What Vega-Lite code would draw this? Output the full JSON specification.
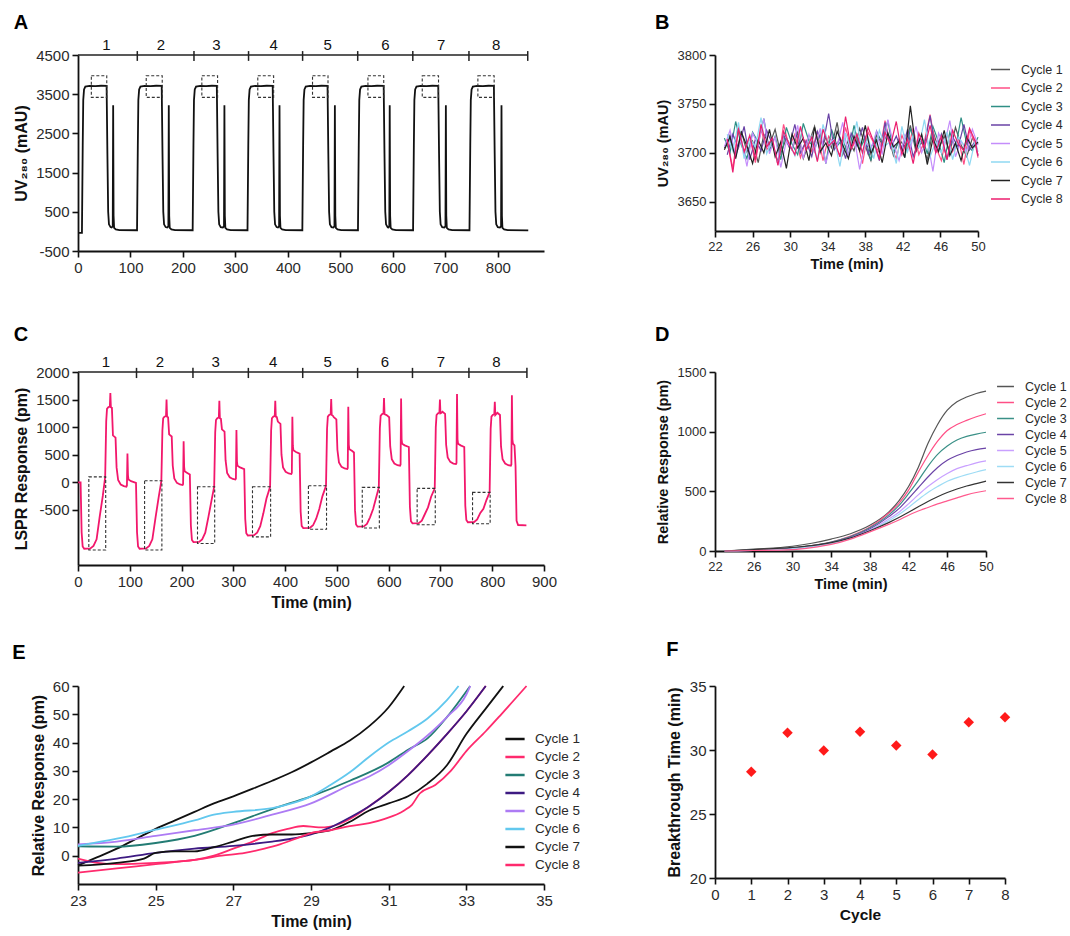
{
"$schema":"https://vega.github.io/schema/vega-lite/v6.json",
"padding":{"left":12,"top":13,"right":2,"bottom":2},
"config":{"font":"Liberation Sans","view":{"stroke":null},
"axis":{"grid":false,"domainColor":"#111","domainWidth":1.8,"tickColor":"#111","tickWidth":1.6,"tickSize":6,"labelColor":"#2a2a2a","titleColor":"#111","titleFontWeight":"bold","labelFlush":false,"labelOverlap":false},
"legend":{"labelColor":"#2a2a2a","padding":0},
"title":{"anchor":"start","frame":"bounds","fontSize":20,"fontWeight":"bold","color":"#000"}},
"resolve":{"scale":{"color":"independent"},"legend":{"color":"independent"}},
"columns":2,"spacing":{"row":121,"column":171},"bounds":"flush","align":"each",
"concat":[
{"width":466,"height":196,"title":{"text":"A","offset":5},
"encoding":{"x":{"field":"x","type":"quantitative","scale":{"domain":[0,888],"nice":false,"zero":false},"axis":{"values":[0,100,200,300,400,500,600,700,800],"title":null,"labelFontSize":15,"labelPadding":3}},
"y":{"field":"y","type":"quantitative","scale":{"domain":[-500,4500],"nice":false,"zero":false},"axis":{"values":[-500,500,1500,2500,3500,4500],"labelExpr":"'' + datum.value","title":"UV₂₈₀ (mAU)","labelFontSize":15,"titleFontSize":16,"labelPadding":3,"titlePadding":6}}},
"layer":[
{"data":{"values":[
{"x":0,"y":-40},{"x":7.5,"y":-40},{"x":9,"y":2200},{"x":10,"y":3350},{"x":11.5,"y":3620},{"x":14,"y":3695},{"x":22,"y":3712},{"x":33,"y":3704},{"x":44,"y":3716},{"x":54.5,"y":3710},{"x":56,"y":2000},{"x":57.5,"y":500},{"x":59,"y":180},{"x":62,"y":110},{"x":64,"y":100},{"x":66.2,"y":130},{"x":67,"y":3220},{"x":67.8,"y":400},{"x":68.8,"y":90},{"x":72,"y":50},{"x":79,"y":35},{"x":112.5,"y":30},
{"x":114,"y":2200},{"x":115,"y":3350},{"x":116.5,"y":3620},{"x":119,"y":3695},{"x":127,"y":3712},{"x":138,"y":3704},{"x":149,"y":3716},{"x":159.5,"y":3710},{"x":161,"y":2000},{"x":162.5,"y":500},{"x":164,"y":180},{"x":167,"y":110},{"x":170,"y":100},{"x":172.2,"y":130},{"x":173,"y":3220},{"x":173.8,"y":400},{"x":174.8,"y":90},{"x":178,"y":50},{"x":185,"y":35},{"x":218.5,"y":30},
{"x":220,"y":2200},{"x":221,"y":3350},{"x":222.5,"y":3620},{"x":225,"y":3695},{"x":233,"y":3712},{"x":244,"y":3704},{"x":255,"y":3716},{"x":264.5,"y":3710},{"x":266,"y":2000},{"x":267.5,"y":500},{"x":269,"y":180},{"x":272,"y":110},{"x":276,"y":100},{"x":278.2,"y":130},{"x":279,"y":3220},{"x":279.8,"y":400},{"x":280.8,"y":90},{"x":284,"y":50},{"x":291,"y":35},{"x":323,"y":30},
{"x":324.5,"y":2200},{"x":325.5,"y":3350},{"x":327,"y":3620},{"x":329.5,"y":3695},{"x":337.5,"y":3712},{"x":348.5,"y":3704},{"x":359.5,"y":3716},{"x":371,"y":3710},{"x":372.5,"y":2000},{"x":374,"y":500},{"x":375.5,"y":180},{"x":378.5,"y":110},{"x":381,"y":100},{"x":383.2,"y":130},{"x":384,"y":3220},{"x":384.8,"y":400},{"x":385.8,"y":90},{"x":389,"y":50},{"x":396,"y":35},{"x":427.5,"y":30},
{"x":429,"y":2200},{"x":430,"y":3350},{"x":431.5,"y":3620},{"x":434,"y":3695},{"x":442,"y":3712},{"x":453,"y":3704},{"x":464,"y":3716},{"x":475.5,"y":3710},{"x":477,"y":2000},{"x":478.5,"y":500},{"x":480,"y":180},{"x":483,"y":110},{"x":486.5,"y":100},{"x":488.7,"y":130},{"x":489.5,"y":3220},{"x":490.3,"y":400},{"x":491.3,"y":90},{"x":494.5,"y":50},{"x":501.5,"y":35},{"x":533.5,"y":30},
{"x":535,"y":2200},{"x":536,"y":3350},{"x":537.5,"y":3620},{"x":540,"y":3695},{"x":548,"y":3712},{"x":559,"y":3704},{"x":570,"y":3716},{"x":582.5,"y":3710},{"x":584,"y":2000},{"x":585.5,"y":500},{"x":587,"y":180},{"x":590,"y":110},{"x":591,"y":100},{"x":593.2,"y":130},{"x":594,"y":3220},{"x":594.8,"y":400},{"x":595.8,"y":90},{"x":599,"y":50},{"x":606,"y":35},{"x":638.5,"y":30},
{"x":640,"y":2200},{"x":641,"y":3350},{"x":642.5,"y":3620},{"x":645,"y":3695},{"x":653,"y":3712},{"x":664,"y":3704},{"x":675,"y":3716},{"x":686.5,"y":3710},{"x":688,"y":2000},{"x":689.5,"y":500},{"x":691,"y":180},{"x":694,"y":110},{"x":698,"y":100},{"x":700.2,"y":130},{"x":701,"y":3220},{"x":701.8,"y":400},{"x":702.8,"y":90},{"x":706,"y":50},{"x":713,"y":35},{"x":746,"y":30},
{"x":747.5,"y":2200},{"x":748.5,"y":3350},{"x":750,"y":3620},{"x":752.5,"y":3695},{"x":760.5,"y":3712},{"x":771.5,"y":3704},{"x":782.5,"y":3716},{"x":792.5,"y":3710},{"x":794,"y":2000},{"x":795.5,"y":500},{"x":797,"y":180},{"x":800,"y":110},{"x":804,"y":100},{"x":806.2,"y":130},{"x":807,"y":3220},{"x":807.8,"y":400},{"x":808.8,"y":90},{"x":812,"y":50},{"x":819,"y":35},{"x":858,"y":25}
]},"mark":{"type":"line","color":"#111","strokeWidth":1.8}},
{"data":{"values":[{"x":25.4,"x2":54.8,"y":3420,"y2":3970},{"x":130,"x2":160.5,"y":3420,"y2":3970},{"x":236,"x2":266,"y":3420,"y2":3970},{"x":342.6,"x2":372.8,"y":3420,"y2":3970},{"x":446.9,"x2":476.4,"y":3420,"y2":3970},{"x":552.5,"x2":582.6,"y":3420,"y2":3970},{"x":656,"x2":687,"y":3420,"y2":3970},{"x":762,"x2":793,"y":3420,"y2":3970}]},
"mark":{"type":"rect","fillOpacity":0,"stroke":"#333","strokeWidth":1.1,"strokeDash":[3,2]},"encoding":{"x2":{"field":"x2"},"y2":{"field":"y2"}}},
{"data":{"values":[{"x":0,"x2":857,"y":4500}]},"mark":{"type":"rule","color":"#222","strokeWidth":1.5},"encoding":{"x2":{"field":"x2"}}},
{"data":{"values":[{"x":113,"y":4350,"y2":4600},{"x":221,"y":4350,"y2":4600},{"x":325,"y":4350,"y2":4600},{"x":428,"y":4350,"y2":4600},{"x":533,"y":4350,"y2":4600},{"x":638,"y":4350,"y2":4600},{"x":745,"y":4350,"y2":4600},{"x":857,"y":4350,"y2":4600}]},"mark":{"type":"rule","color":"#222","strokeWidth":1.5},"encoding":{"y2":{"field":"y2"}}},
{"data":{"values":[{"x":54,"y":4500,"t":"1"},{"x":158,"y":4500,"t":"2"},{"x":264,"y":4500,"t":"3"},{"x":373,"y":4500,"t":"4"},{"x":476,"y":4500,"t":"5"},{"x":586,"y":4500,"t":"6"},{"x":692,"y":4500,"t":"7"},{"x":797,"y":4500,"t":"8"}]},"mark":{"type":"text","fontSize":15,"dy":-10,"color":"#111"},"encoding":{"text":{"field":"t","type":"nominal"}}}
]},
{"width":263,"height":176,"title":{"text":"B","offset":16},
"data":{"values":[
{"c":1,"x":23,"y":3705},{"c":1,"x":23.6,"y":3718},{"c":1,"x":24.2,"y":3696},{"c":1,"x":24.8,"y":3722},{"c":1,"x":25.4,"y":3701},{"c":1,"x":26,"y":3712},{"c":1,"x":26.6,"y":3690},{"c":1,"x":27.2,"y":3719},{"c":1,"x":27.8,"y":3708},{"c":1,"x":28.4,"y":3724},{"c":1,"x":29,"y":3699},{"c":1,"x":29.6,"y":3715},{"c":1,"x":30.2,"y":3703},{"c":1,"x":30.8,"y":3721},{"c":1,"x":31.4,"y":3694},{"c":1,"x":32,"y":3710},{"c":1,"x":32.6,"y":3727},{"c":1,"x":33.2,"y":3700},{"c":1,"x":33.8,"y":3716},{"c":1,"x":34.4,"y":3705},{"c":1,"x":35,"y":3731},{"c":1,"x":35.6,"y":3698},{"c":1,"x":36.2,"y":3713},{"c":1,"x":36.8,"y":3702},{"c":1,"x":37.4,"y":3725},{"c":1,"x":38,"y":3707},{"c":1,"x":38.6,"y":3692},{"c":1,"x":39.2,"y":3718},{"c":1,"x":39.8,"y":3709},{"c":1,"x":40.4,"y":3720},{"c":1,"x":41,"y":3697},{"c":1,"x":41.6,"y":3714},{"c":1,"x":42.2,"y":3706},{"c":1,"x":42.8,"y":3728},{"c":1,"x":43.4,"y":3701},{"c":1,"x":44,"y":3711},{"c":1,"x":44.6,"y":3693},{"c":1,"x":45.2,"y":3722},{"c":1,"x":45.8,"y":3704},{"c":1,"x":46.4,"y":3717},{"c":1,"x":47,"y":3700},{"c":1,"x":47.6,"y":3726},{"c":1,"x":48.2,"y":3708},{"c":1,"x":48.8,"y":3696},{"c":1,"x":49.4,"y":3715},{"c":1,"x":50,"y":3709},
{"c":2,"x":23.3,"y":3712},{"c":2,"x":23.9,"y":3684},{"c":2,"x":24.5,"y":3727},{"c":2,"x":25.1,"y":3699},{"c":2,"x":25.7,"y":3716},{"c":2,"x":26.3,"y":3690},{"c":2,"x":26.9,"y":3724},{"c":2,"x":27.5,"y":3703},{"c":2,"x":28.1,"y":3711},{"c":2,"x":28.7,"y":3688},{"c":2,"x":29.3,"y":3729},{"c":2,"x":29.9,"y":3706},{"c":2,"x":30.5,"y":3719},{"c":2,"x":31.1,"y":3695},{"c":2,"x":31.7,"y":3713},{"c":2,"x":32.3,"y":3701},{"c":2,"x":32.9,"y":3722},{"c":2,"x":33.5,"y":3692},{"c":2,"x":34.1,"y":3717},{"c":2,"x":34.7,"y":3708},{"c":2,"x":35.3,"y":3697},{"c":2,"x":35.9,"y":3726},{"c":2,"x":36.5,"y":3704},{"c":2,"x":37.1,"y":3714},{"c":2,"x":37.7,"y":3689},{"c":2,"x":38.3,"y":3721},{"c":2,"x":38.9,"y":3710},{"c":2,"x":39.5,"y":3700},{"c":2,"x":40.1,"y":3733},{"c":2,"x":40.7,"y":3707},{"c":2,"x":41.3,"y":3694},{"c":2,"x":41.9,"y":3718},{"c":2,"x":42.5,"y":3703},{"c":2,"x":43.1,"y":3725},{"c":2,"x":43.7,"y":3698},{"c":2,"x":44.3,"y":3712},{"c":2,"x":44.9,"y":3739},{"c":2,"x":45.5,"y":3706},{"c":2,"x":46.1,"y":3692},{"c":2,"x":46.7,"y":3720},{"c":2,"x":47.3,"y":3701},{"c":2,"x":47.9,"y":3715},{"c":2,"x":48.5,"y":3688},{"c":2,"x":49.1,"y":3723},{"c":2,"x":49.7,"y":3709},{"c":2,"x":50,"y":3695},
{"c":3,"x":23,"y":3715},{"c":3,"x":23.6,"y":3700},{"c":3,"x":24.2,"y":3732},{"c":3,"x":24.8,"y":3708},{"c":3,"x":25.4,"y":3694},{"c":3,"x":26,"y":3721},{"c":3,"x":26.6,"y":3711},{"c":3,"x":27.2,"y":3735},{"c":3,"x":27.8,"y":3702},{"c":3,"x":28.4,"y":3717},{"c":3,"x":29,"y":3693},{"c":3,"x":29.6,"y":3726},{"c":3,"x":30.2,"y":3709},{"c":3,"x":30.8,"y":3698},{"c":3,"x":31.4,"y":3730},{"c":3,"x":32,"y":3712},{"c":3,"x":32.6,"y":3704},{"c":3,"x":33.2,"y":3719},{"c":3,"x":33.8,"y":3689},{"c":3,"x":34.4,"y":3724},{"c":3,"x":35,"y":3707},{"c":3,"x":35.6,"y":3714},{"c":3,"x":36.2,"y":3697},{"c":3,"x":36.8,"y":3728},{"c":3,"x":37.4,"y":3703},{"c":3,"x":38,"y":3716},{"c":3,"x":38.6,"y":3692},{"c":3,"x":39.2,"y":3722},{"c":3,"x":39.8,"y":3710},{"c":3,"x":40.4,"y":3733},{"c":3,"x":41,"y":3700},{"c":3,"x":41.6,"y":3713},{"c":3,"x":42.2,"y":3695},{"c":3,"x":42.8,"y":3725},{"c":3,"x":43.4,"y":3706},{"c":3,"x":44,"y":3718},{"c":3,"x":44.6,"y":3699},{"c":3,"x":45.2,"y":3727},{"c":3,"x":45.8,"y":3711},{"c":3,"x":46.4,"y":3690},{"c":3,"x":47,"y":3721},{"c":3,"x":47.6,"y":3704},{"c":3,"x":48.2,"y":3736},{"c":3,"x":48.8,"y":3709},{"c":3,"x":49.4,"y":3702},{"c":3,"x":50,"y":3716},
{"c":4,"x":23.3,"y":3698},{"c":4,"x":23.9,"y":3719},{"c":4,"x":24.5,"y":3705},{"c":4,"x":25.1,"y":3727},{"c":4,"x":25.7,"y":3693},{"c":4,"x":26.3,"y":3714},{"c":4,"x":26.9,"y":3702},{"c":4,"x":27.5,"y":3723},{"c":4,"x":28.1,"y":3709},{"c":4,"x":28.7,"y":3691},{"c":4,"x":29.3,"y":3718},{"c":4,"x":29.9,"y":3706},{"c":4,"x":30.5,"y":3729},{"c":4,"x":31.1,"y":3700},{"c":4,"x":31.7,"y":3712},{"c":4,"x":32.3,"y":3696},{"c":4,"x":32.9,"y":3722},{"c":4,"x":33.5,"y":3708},{"c":4,"x":34.1,"y":3740},{"c":4,"x":34.7,"y":3703},{"c":4,"x":35.3,"y":3715},{"c":4,"x":35.9,"y":3694},{"c":4,"x":36.5,"y":3720},{"c":4,"x":37.1,"y":3707},{"c":4,"x":37.7,"y":3726},{"c":4,"x":38.3,"y":3699},{"c":4,"x":38.9,"y":3711},{"c":4,"x":39.5,"y":3692},{"c":4,"x":40.1,"y":3731},{"c":4,"x":40.7,"y":3705},{"c":4,"x":41.3,"y":3717},{"c":4,"x":41.9,"y":3701},{"c":4,"x":42.5,"y":3724},{"c":4,"x":43.1,"y":3696},{"c":4,"x":43.7,"y":3713},{"c":4,"x":44.3,"y":3708},{"c":4,"x":44.9,"y":3738},{"c":4,"x":45.5,"y":3700},{"c":4,"x":46.1,"y":3719},{"c":4,"x":46.7,"y":3693},{"c":4,"x":47.3,"y":3716},{"c":4,"x":47.9,"y":3706},{"c":4,"x":48.5,"y":3729},{"c":4,"x":49.1,"y":3703},{"c":4,"x":49.7,"y":3712},{"c":4,"x":50,"y":3697},
{"c":5,"x":23,"y":3706},{"c":5,"x":23.6,"y":3723},{"c":5,"x":24.2,"y":3697},{"c":5,"x":24.8,"y":3714},{"c":5,"x":25.4,"y":3686},{"c":5,"x":26,"y":3720},{"c":5,"x":26.6,"y":3708},{"c":5,"x":27.2,"y":3735},{"c":5,"x":27.8,"y":3699},{"c":5,"x":28.4,"y":3716},{"c":5,"x":29,"y":3685},{"c":5,"x":29.6,"y":3712},{"c":5,"x":30.2,"y":3703},{"c":5,"x":30.8,"y":3728},{"c":5,"x":31.4,"y":3694},{"c":5,"x":32,"y":3719},{"c":5,"x":32.6,"y":3701},{"c":5,"x":33.2,"y":3725},{"c":5,"x":33.8,"y":3689},{"c":5,"x":34.4,"y":3713},{"c":5,"x":35,"y":3707},{"c":5,"x":35.6,"y":3731},{"c":5,"x":36.2,"y":3696},{"c":5,"x":36.8,"y":3717},{"c":5,"x":37.4,"y":3683},{"c":5,"x":38,"y":3711},{"c":5,"x":38.6,"y":3704},{"c":5,"x":39.2,"y":3722},{"c":5,"x":39.8,"y":3698},{"c":5,"x":40.4,"y":3734},{"c":5,"x":41,"y":3709},{"c":5,"x":41.6,"y":3692},{"c":5,"x":42.2,"y":3718},{"c":5,"x":42.8,"y":3705},{"c":5,"x":43.4,"y":3727},{"c":5,"x":44,"y":3700},{"c":5,"x":44.6,"y":3714},{"c":5,"x":45.2,"y":3681},{"c":5,"x":45.8,"y":3720},{"c":5,"x":46.4,"y":3707},{"c":5,"x":47,"y":3733},{"c":5,"x":47.6,"y":3696},{"c":5,"x":48.2,"y":3712},{"c":5,"x":48.8,"y":3702},{"c":5,"x":49.4,"y":3724},{"c":5,"x":50,"y":3708},
{"c":6,"x":23.3,"y":3719},{"c":6,"x":23.9,"y":3702},{"c":6,"x":24.5,"y":3731},{"c":6,"x":25.1,"y":3694},{"c":6,"x":25.7,"y":3715},{"c":6,"x":26.3,"y":3706},{"c":6,"x":26.9,"y":3736},{"c":6,"x":27.5,"y":3699},{"c":6,"x":28.1,"y":3713},{"c":6,"x":28.7,"y":3688},{"c":6,"x":29.3,"y":3721},{"c":6,"x":29.9,"y":3710},{"c":6,"x":30.5,"y":3697},{"c":6,"x":31.1,"y":3725},{"c":6,"x":31.7,"y":3704},{"c":6,"x":32.3,"y":3717},{"c":6,"x":32.9,"y":3692},{"c":6,"x":33.5,"y":3729},{"c":6,"x":34.1,"y":3708},{"c":6,"x":34.7,"y":3714},{"c":6,"x":35.3,"y":3686},{"c":6,"x":35.9,"y":3720},{"c":6,"x":36.5,"y":3703},{"c":6,"x":37.1,"y":3732},{"c":6,"x":37.7,"y":3699},{"c":6,"x":38.3,"y":3716},{"c":6,"x":38.9,"y":3694},{"c":6,"x":39.5,"y":3723},{"c":6,"x":40.1,"y":3707},{"c":6,"x":40.7,"y":3712},{"c":6,"x":41.3,"y":3689},{"c":6,"x":41.9,"y":3727},{"c":6,"x":42.5,"y":3701},{"c":6,"x":43.1,"y":3718},{"c":6,"x":43.7,"y":3705},{"c":6,"x":44.3,"y":3734},{"c":6,"x":44.9,"y":3696},{"c":6,"x":45.5,"y":3711},{"c":6,"x":46.1,"y":3700},{"c":6,"x":46.7,"y":3721},{"c":6,"x":47.3,"y":3693},{"c":6,"x":47.9,"y":3716},{"c":6,"x":48.5,"y":3708},{"c":6,"x":49.1,"y":3687},{"c":6,"x":49.7,"y":3713},{"c":6,"x":50,"y":3701},
{"c":7,"x":23,"y":3703},{"c":7,"x":23.6,"y":3716},{"c":7,"x":24.2,"y":3694},{"c":7,"x":24.8,"y":3721},{"c":7,"x":25.4,"y":3707},{"c":7,"x":26,"y":3689},{"c":7,"x":26.6,"y":3713},{"c":7,"x":27.2,"y":3700},{"c":7,"x":27.8,"y":3724},{"c":7,"x":28.4,"y":3696},{"c":7,"x":29,"y":3711},{"c":7,"x":29.6,"y":3684},{"c":7,"x":30.2,"y":3719},{"c":7,"x":30.8,"y":3705},{"c":7,"x":31.4,"y":3715},{"c":7,"x":32,"y":3692},{"c":7,"x":32.6,"y":3726},{"c":7,"x":33.2,"y":3701},{"c":7,"x":33.8,"y":3710},{"c":7,"x":34.4,"y":3697},{"c":7,"x":35,"y":3722},{"c":7,"x":35.6,"y":3708},{"c":7,"x":36.2,"y":3694},{"c":7,"x":36.8,"y":3717},{"c":7,"x":37.4,"y":3702},{"c":7,"x":38,"y":3728},{"c":7,"x":38.6,"y":3699},{"c":7,"x":39.2,"y":3713},{"c":7,"x":39.8,"y":3690},{"c":7,"x":40.4,"y":3720},{"c":7,"x":41,"y":3706},{"c":7,"x":41.6,"y":3712},{"c":7,"x":42.2,"y":3695},{"c":7,"x":42.8,"y":3748},{"c":7,"x":43.4,"y":3703},{"c":7,"x":44,"y":3719},{"c":7,"x":44.6,"y":3688},{"c":7,"x":45.2,"y":3714},{"c":7,"x":45.8,"y":3701},{"c":7,"x":46.4,"y":3723},{"c":7,"x":47,"y":3697},{"c":7,"x":47.6,"y":3710},{"c":7,"x":48.2,"y":3692},{"c":7,"x":48.8,"y":3716},{"c":7,"x":49.4,"y":3705},{"c":7,"x":50,"y":3711},
{"c":8,"x":23.3,"y":3714},{"c":8,"x":23.9,"y":3680},{"c":8,"x":24.5,"y":3725},{"c":8,"x":25.1,"y":3701},{"c":8,"x":25.7,"y":3718},{"c":8,"x":26.3,"y":3693},{"c":8,"x":26.9,"y":3729},{"c":8,"x":27.5,"y":3706},{"c":8,"x":28.1,"y":3715},{"c":8,"x":28.7,"y":3687},{"c":8,"x":29.3,"y":3722},{"c":8,"x":29.9,"y":3709},{"c":8,"x":30.5,"y":3698},{"c":8,"x":31.1,"y":3727},{"c":8,"x":31.7,"y":3703},{"c":8,"x":32.3,"y":3716},{"c":8,"x":32.9,"y":3691},{"c":8,"x":33.5,"y":3724},{"c":8,"x":34.1,"y":3707},{"c":8,"x":34.7,"y":3713},{"c":8,"x":35.3,"y":3696},{"c":8,"x":35.9,"y":3737},{"c":8,"x":36.5,"y":3704},{"c":8,"x":37.1,"y":3719},{"c":8,"x":37.7,"y":3700},{"c":8,"x":38.3,"y":3726},{"c":8,"x":38.9,"y":3711},{"c":8,"x":39.5,"y":3694},{"c":8,"x":40.1,"y":3721},{"c":8,"x":40.7,"y":3708},{"c":8,"x":41.3,"y":3732},{"c":8,"x":41.9,"y":3698},{"c":8,"x":42.5,"y":3714},{"c":8,"x":43.1,"y":3689},{"c":8,"x":43.7,"y":3720},{"c":8,"x":44.3,"y":3705},{"c":8,"x":44.9,"y":3728},{"c":8,"x":45.5,"y":3700},{"c":8,"x":46.1,"y":3717},{"c":8,"x":46.7,"y":3693},{"c":8,"x":47.3,"y":3723},{"c":8,"x":47.9,"y":3709},{"c":8,"x":48.5,"y":3702},{"c":8,"x":49.1,"y":3725},{"c":8,"x":49.7,"y":3712},{"c":8,"x":50,"y":3697}
]},
"mark":{"type":"line","strokeWidth":1.2},
"encoding":{"x":{"field":"x","type":"quantitative","scale":{"domain":[22,50],"nice":false,"zero":false},"axis":{"values":[22,26,30,34,38,42,46,50],"title":"Time (min)","labelFontSize":13,"titleFontSize":14.5,"labelPadding":3,"titlePadding":4}},
"y":{"field":"y","type":"quantitative","scale":{"domain":[3620,3800],"nice":false,"zero":false},"axis":{"values":[3650,3700,3750,3800],"format":"d","title":"UV₂₈₀ (mAU)","labelFontSize":13,"titleFontSize":14.5,"labelPadding":3,"titlePadding":7}},
"color":{"field":"c","type":"nominal","scale":{"domain":[1,2,3,4,5,6,7,8],"range":["#555555","#ff4f86","#2f8f85","#6a43a6","#c48dfb","#8fd8f2","#222222","#ec1e6e"]},"legend":{"title":null,"orient":"none","legendX":275,"legendY":4,"labelExpr":"'Cycle ' + datum.label","symbolType":"stroke","symbolSize":361,"symbolStrokeWidth":1.5,"labelFontSize":12.5,"labelOffset":10,"rowPadding":1.5}}}},
{"width":466,"height":193,"title":{"text":"C","offset":10},
"encoding":{"x":{"field":"x","type":"quantitative","scale":{"domain":[0,900],"nice":false,"zero":false},"axis":{"values":[0,100,200,300,400,500,600,700,800,900],"title":"Time (min)","labelFontSize":15,"titleFontSize":16,"labelPadding":3,"titlePadding":5}},
"y":{"field":"y","type":"quantitative","scale":{"domain":[-1500,2000],"nice":false,"zero":false},"axis":{"values":[-500,0,500,1000,1500,2000],"labelExpr":"'' + datum.value","title":"LSPR Response (pm)","labelFontSize":15,"titleFontSize":16,"labelPadding":3,"titlePadding":6}}},
"layer":[
{"data":{"values":[
{"x":0,"y":0},{"x":5,"y":0},{"x":7,"y":-905},{"x":9,"y":-1165},{"x":12,"y":-1205},{"x":23.9,"y":-1200},{"x":29.9,"y":-1155},{"x":35.9,"y":-1035},{"x":41.9,"y":-622},{"x":47.9,"y":-248},{"x":52.5,"y":98},{"x":54.5,"y":1110},{"x":56,"y":1330},{"x":58.5,"y":1360},{"x":61.5,"y":1375},{"x":62.5,"y":1620},{"x":63.5,"y":1360},{"x":65.5,"y":1350},{"x":67.5,"y":850},{"x":72.5,"y":810},{"x":74.5,"y":270},{"x":77.5,"y":40},{"x":82.5,"y":-40},{"x":88.5,"y":-70},{"x":93.5,"y":-80},{"x":94.5,"y":-60},{"x":95.5,"y":520},{"x":96.5,"y":130},{"x":97.5,"y":50},{"x":102.5,"y":20},{"x":112,"y":-10},
{"x":114,"y":-905},{"x":116,"y":-1165},{"x":119,"y":-1205},{"x":131.6,"y":-1200},{"x":137.6,"y":-1155},{"x":143.6,"y":-1035},{"x":149.6,"y":-651},{"x":155.6,"y":-281},{"x":161,"y":27},{"x":163,"y":940},{"x":164.5,"y":1160},{"x":167,"y":1190},{"x":170,"y":1205},{"x":171,"y":1500},{"x":172,"y":1190},{"x":174,"y":1180},{"x":176,"y":870},{"x":181,"y":830},{"x":183,"y":300},{"x":186,"y":70},{"x":191,"y":-10},{"x":197,"y":-40},{"x":202,"y":-50},{"x":203,"y":-30},{"x":204,"y":745},{"x":205,"y":280},{"x":206,"y":200},{"x":211,"y":170},{"x":216,"y":140},
{"x":218,"y":-785},{"x":220,"y":-1045},{"x":223,"y":-1085},{"x":233.8,"y":-1080},{"x":239.8,"y":-1035},{"x":245.8,"y":-915},{"x":251.8,"y":-631},{"x":257.8,"y":-334},{"x":263,"y":-81},{"x":265,"y":910},{"x":266.5,"y":1130},{"x":269,"y":1160},{"x":272,"y":1175},{"x":273,"y":1480},{"x":274,"y":1160},{"x":276,"y":1150},{"x":278,"y":960},{"x":283,"y":920},{"x":285,"y":400},{"x":288,"y":170},{"x":293,"y":90},{"x":299,"y":60},{"x":304,"y":50},{"x":305,"y":70},{"x":306,"y":950},{"x":307,"y":380},{"x":308,"y":300},{"x":313,"y":270},{"x":321,"y":240},
{"x":323,"y":-665},{"x":325,"y":-925},{"x":328,"y":-965},{"x":340,"y":-960},{"x":346,"y":-915},{"x":352,"y":-795},{"x":358,"y":-563},{"x":364,"y":-293},{"x":371,"y":-81},{"x":373,"y":940},{"x":374.5,"y":1160},{"x":377,"y":1190},{"x":380,"y":1205},{"x":381,"y":1480},{"x":382,"y":1190},{"x":384,"y":1180},{"x":386,"y":1100},{"x":391,"y":1060},{"x":393,"y":500},{"x":396,"y":270},{"x":401,"y":190},{"x":407,"y":160},{"x":412,"y":150},{"x":413,"y":170},{"x":414,"y":1190},{"x":415,"y":660},{"x":416,"y":580},{"x":421,"y":550},{"x":428,"y":520},
{"x":430,"y":-530},{"x":432,"y":-790},{"x":435,"y":-830},{"x":448,"y":-825},{"x":454,"y":-780},{"x":460,"y":-660},{"x":466,"y":-485},{"x":472,"y":-255},{"x":479,"y":-63},{"x":481,"y":970},{"x":482.5,"y":1190},{"x":485,"y":1220},{"x":488,"y":1235},{"x":489,"y":1510},{"x":490,"y":1220},{"x":492,"y":1210},{"x":494,"y":1180},{"x":499,"y":1140},{"x":501,"y":590},{"x":504,"y":360},{"x":509,"y":280},{"x":515,"y":250},{"x":520,"y":240},{"x":521,"y":260},{"x":522,"y":1370},{"x":523,"y":680},{"x":524,"y":600},{"x":529,"y":570},{"x":533,"y":540},
{"x":535,"y":-505},{"x":537,"y":-765},{"x":540,"y":-805},{"x":552,"y":-800},{"x":558,"y":-755},{"x":564,"y":-635},{"x":570,"y":-485},{"x":576,"y":-271},{"x":581,"y":-93},{"x":583,"y":985},{"x":584.5,"y":1205},{"x":587,"y":1235},{"x":590,"y":1250},{"x":591,"y":1530},{"x":592,"y":1235},{"x":594,"y":1225},{"x":596,"y":1220},{"x":601,"y":1180},{"x":603,"y":650},{"x":606,"y":420},{"x":611,"y":340},{"x":617,"y":310},{"x":622,"y":300},{"x":623,"y":320},{"x":624,"y":1520},{"x":625,"y":780},{"x":626,"y":700},{"x":631,"y":670},{"x":639,"y":640},
{"x":641,"y":-445},{"x":643,"y":-705},{"x":646,"y":-745},{"x":658,"y":-740},{"x":664,"y":-695},{"x":670,"y":-575},{"x":676,"y":-455},{"x":682,"y":-262},{"x":689,"y":-111},{"x":691,"y":1000},{"x":692.5,"y":1220},{"x":695,"y":1250},{"x":698,"y":1265},{"x":699,"y":1500},{"x":700,"y":1250},{"x":702,"y":1260},{"x":704,"y":1280},{"x":709,"y":1240},{"x":711,"y":680},{"x":714,"y":450},{"x":719,"y":370},{"x":725,"y":340},{"x":730,"y":330},{"x":731,"y":350},{"x":732,"y":1600},{"x":733,"y":780},{"x":734,"y":700},{"x":739,"y":670},{"x":746,"y":640},
{"x":748,"y":-425},{"x":750,"y":-685},{"x":753,"y":-725},{"x":765,"y":-720},{"x":771,"y":-675},{"x":777,"y":-555},{"x":783,"y":-481},{"x":789,"y":-318},{"x":795,"y":-183},{"x":797,"y":970},{"x":798.5,"y":1190},{"x":801,"y":1220},{"x":804,"y":1235},{"x":805,"y":1460},{"x":806,"y":1220},{"x":808,"y":1240},{"x":810,"y":1260},{"x":815,"y":1220},{"x":817,"y":650},{"x":820,"y":420},{"x":825,"y":340},{"x":831,"y":310},{"x":836,"y":300},{"x":837,"y":320},{"x":838,"y":1580},{"x":839,"y":780},{"x":840,"y":700},{"x":843,"y":670},{"x":845,"y":300},{"x":847,"y":-700},{"x":850,"y":-775},{"x":866,"y":-780}
]},"mark":{"type":"line","color":"#f2176b","strokeWidth":1.8}},
{"data":{"values":[{"x":20.9,"x2":53.5,"y":-1229,"y2":98},{"x":128.6,"x2":162,"y":-1229,"y2":27},{"x":230.8,"x2":264,"y":-1110,"y2":-81},{"x":337,"x2":372,"y":-990,"y2":-81},{"x":445,"x2":480,"y":-852,"y2":-63},{"x":549,"x2":582,"y":-829,"y2":-93},{"x":655,"x2":690,"y":-769,"y2":-111},{"x":762,"x2":796,"y":-751,"y2":-183}]},
"mark":{"type":"rect","fillOpacity":0,"stroke":"#333","strokeWidth":1.1,"strokeDash":[3,2]},"encoding":{"x2":{"field":"x2"},"y2":{"field":"y2"}}},
{"data":{"values":[{"x":0,"x2":867,"y":2000}]},"mark":{"type":"rule","color":"#222","strokeWidth":1.5},"encoding":{"x2":{"field":"x2"}}},
{"data":{"values":[{"x":113,"y":1890,"y2":2075},{"x":222,"y":1890,"y2":2075},{"x":329,"y":1890,"y2":2075},{"x":434,"y":1890,"y2":2075},{"x":540,"y":1890,"y2":2075},{"x":646,"y":1890,"y2":2075},{"x":755,"y":1890,"y2":2075},{"x":867,"y":1890,"y2":2075}]},"mark":{"type":"rule","color":"#222","strokeWidth":1.5},"encoding":{"y2":{"field":"y2"}}},
{"data":{"values":[{"x":54,"y":2000,"t":"1"},{"x":158,"y":2000,"t":"2"},{"x":266,"y":2000,"t":"3"},{"x":377,"y":2000,"t":"4"},{"x":482,"y":2000,"t":"5"},{"x":593,"y":2000,"t":"6"},{"x":701,"y":2000,"t":"7"},{"x":808,"y":2000,"t":"8"}]},"mark":{"type":"text","fontSize":15,"dy":-10,"color":"#111"},"encoding":{"text":{"field":"t","type":"nominal"}}}
]},
{"width":271,"height":179,"title":{"text":"D","offset":21},
"data":{"values":[
{"c":1,"x":23,"y":0},{"c":1,"x":26,"y":15},{"c":1,"x":30,"y":40},{"c":1,"x":32,"y":65},{"c":1,"x":34,"y":100},{"c":1,"x":36,"y":145},{"c":1,"x":38,"y":215},{"c":1,"x":40,"y":330},{"c":1,"x":41,"y":420},{"c":1,"x":42,"y":540},{"c":1,"x":43,"y":700},{"c":1,"x":44,"y":900},{"c":1,"x":45,"y":1060},{"c":1,"x":46,"y":1180},{"c":1,"x":47,"y":1250},{"c":1,"x":48,"y":1290},{"c":1,"x":49,"y":1320},{"c":1,"x":50,"y":1340},
{"c":2,"x":23,"y":0},{"c":2,"x":26,"y":8},{"c":2,"x":30,"y":25},{"c":2,"x":32,"y":45},{"c":2,"x":34,"y":75},{"c":2,"x":36,"y":125},{"c":2,"x":38,"y":200},{"c":2,"x":40,"y":320},{"c":2,"x":41,"y":400},{"c":2,"x":42,"y":510},{"c":2,"x":43,"y":660},{"c":2,"x":44,"y":800},{"c":2,"x":45,"y":920},{"c":2,"x":46,"y":1010},{"c":2,"x":47,"y":1060},{"c":2,"x":48,"y":1095},{"c":2,"x":49,"y":1125},{"c":2,"x":50,"y":1150},
{"c":3,"x":23,"y":0},{"c":3,"x":26,"y":8},{"c":3,"x":30,"y":25},{"c":3,"x":32,"y":45},{"c":3,"x":34,"y":75},{"c":3,"x":36,"y":120},{"c":3,"x":38,"y":195},{"c":3,"x":40,"y":305},{"c":3,"x":41,"y":380},{"c":3,"x":42,"y":480},{"c":3,"x":43,"y":590},{"c":3,"x":44,"y":710},{"c":3,"x":45,"y":810},{"c":3,"x":46,"y":880},{"c":3,"x":47,"y":930},{"c":3,"x":48,"y":960},{"c":3,"x":49,"y":980},{"c":3,"x":50,"y":995},
{"c":4,"x":23,"y":0},{"c":4,"x":26,"y":6},{"c":4,"x":30,"y":20},{"c":4,"x":32,"y":40},{"c":4,"x":34,"y":70},{"c":4,"x":36,"y":115},{"c":4,"x":38,"y":185},{"c":4,"x":40,"y":290},{"c":4,"x":41,"y":355},{"c":4,"x":42,"y":440},{"c":4,"x":43,"y":530},{"c":4,"x":44,"y":620},{"c":4,"x":45,"y":700},{"c":4,"x":46,"y":760},{"c":4,"x":47,"y":800},{"c":4,"x":48,"y":830},{"c":4,"x":49,"y":850},{"c":4,"x":50,"y":862},
{"c":5,"x":23,"y":0},{"c":5,"x":26,"y":5},{"c":5,"x":30,"y":18},{"c":5,"x":32,"y":38},{"c":5,"x":34,"y":65},{"c":5,"x":36,"y":110},{"c":5,"x":38,"y":175},{"c":5,"x":40,"y":270},{"c":5,"x":41,"y":325},{"c":5,"x":42,"y":395},{"c":5,"x":43,"y":470},{"c":5,"x":44,"y":540},{"c":5,"x":45,"y":600},{"c":5,"x":46,"y":650},{"c":5,"x":47,"y":690},{"c":5,"x":48,"y":715},{"c":5,"x":49,"y":738},{"c":5,"x":50,"y":755},
{"c":6,"x":23,"y":0},{"c":6,"x":26,"y":5},{"c":6,"x":30,"y":18},{"c":6,"x":32,"y":36},{"c":6,"x":34,"y":62},{"c":6,"x":36,"y":105},{"c":6,"x":38,"y":170},{"c":6,"x":40,"y":255},{"c":6,"x":41,"y":305},{"c":6,"x":42,"y":365},{"c":6,"x":43,"y":430},{"c":6,"x":44,"y":490},{"c":6,"x":45,"y":540},{"c":6,"x":46,"y":585},{"c":6,"x":47,"y":615},{"c":6,"x":48,"y":640},{"c":6,"x":49,"y":662},{"c":6,"x":50,"y":682},
{"c":7,"x":23,"y":0},{"c":7,"x":26,"y":12},{"c":7,"x":30,"y":30},{"c":7,"x":32,"y":45},{"c":7,"x":34,"y":70},{"c":7,"x":36,"y":110},{"c":7,"x":38,"y":170},{"c":7,"x":40,"y":240},{"c":7,"x":41,"y":280},{"c":7,"x":42,"y":325},{"c":7,"x":43,"y":370},{"c":7,"x":44,"y":415},{"c":7,"x":45,"y":455},{"c":7,"x":46,"y":490},{"c":7,"x":47,"y":520},{"c":7,"x":48,"y":545},{"c":7,"x":49,"y":565},{"c":7,"x":50,"y":585},
{"c":8,"x":23,"y":0},{"c":8,"x":26,"y":4},{"c":8,"x":30,"y":12},{"c":8,"x":32,"y":28},{"c":8,"x":34,"y":55},{"c":8,"x":36,"y":100},{"c":8,"x":38,"y":160},{"c":8,"x":40,"y":225},{"c":8,"x":41,"y":260},{"c":8,"x":42,"y":300},{"c":8,"x":43,"y":335},{"c":8,"x":44,"y":365},{"c":8,"x":45,"y":395},{"c":8,"x":46,"y":420},{"c":8,"x":47,"y":445},{"c":8,"x":48,"y":470},{"c":8,"x":49,"y":490},{"c":8,"x":50,"y":505}
]},
"mark":{"type":"line","strokeWidth":1.2,"interpolate":"monotone"},
"encoding":{"x":{"field":"x","type":"quantitative","scale":{"domain":[22,50],"nice":false,"zero":false},"axis":{"values":[22,26,30,34,38,42,46,50],"title":"Time (min)","labelFontSize":13,"titleFontSize":14.5,"labelPadding":3,"titlePadding":4}},
"y":{"field":"y","type":"quantitative","scale":{"domain":[0,1500],"nice":false},"axis":{"values":[0,500,1000,1500],"format":"d","title":"Relative Response (pm)","labelFontSize":13,"titleFontSize":14.5,"labelPadding":3,"titlePadding":7}},
"color":{"field":"c","type":"nominal","scale":{"domain":[1,2,3,4,5,6,7,8],"range":["#555555","#ff4f86","#3a9087","#6a43a6","#c9a0ff","#9edcf5","#333333","#ff5a8e"]},"legend":{"title":null,"orient":"none","legendX":281,"legendY":5,"labelExpr":"'Cycle ' + datum.label","symbolType":"stroke","symbolSize":286,"symbolStrokeWidth":1.5,"labelFontSize":12.5,"labelOffset":10,"rowPadding":0}}}},
{"width":466,"height":198,"title":{"text":"E","offset":16,"dx":-18},
"data":{"values":[
{"c":1,"x":23,"y":-3.4},{"c":1,"x":23.5,"y":-0.5},{"c":1,"x":24,"y":2.5},{"c":1,"x":24.5,"y":6},{"c":1,"x":25,"y":9.5},{"c":1,"x":25.5,"y":12.5},{"c":1,"x":26,"y":15.5},{"c":1,"x":26.5,"y":18.5},{"c":1,"x":27,"y":21},{"c":1,"x":27.5,"y":23.7},{"c":1,"x":28,"y":26.5},{"c":1,"x":28.5,"y":29.5},{"c":1,"x":29,"y":33},{"c":1,"x":29.5,"y":36.8},{"c":1,"x":30,"y":40.7},{"c":1,"x":30.5,"y":45.8},{"c":1,"x":31,"y":52.5},{"c":1,"x":31.4,"y":60},
{"c":2,"x":23,"y":-1},{"c":2,"x":23.5,"y":-2.5},{"c":2,"x":24,"y":-3},{"c":2,"x":25,"y":-2.5},{"c":2,"x":26,"y":-1.5},{"c":2,"x":26.5,"y":0},{"c":2,"x":27,"y":2.5},{"c":2,"x":27.5,"y":5},{"c":2,"x":28,"y":8},{"c":2,"x":28.4,"y":9.5},{"c":2,"x":28.8,"y":10.5},{"c":2,"x":29.2,"y":10},{"c":2,"x":29.5,"y":10.3},{"c":2,"x":30,"y":13},{"c":2,"x":30.5,"y":17.5},{"c":2,"x":31,"y":22.5},{"c":2,"x":31.5,"y":28.5},{"c":2,"x":32,"y":35.5},{"c":2,"x":32.5,"y":43},{"c":2,"x":33,"y":51},{"c":2,"x":33.5,"y":60},
{"c":3,"x":23,"y":3.3},{"c":3,"x":24,"y":3.2},{"c":3,"x":25,"y":4.5},{"c":3,"x":26,"y":7},{"c":3,"x":27,"y":11.5},{"c":3,"x":28,"y":16.5},{"c":3,"x":29,"y":21},{"c":3,"x":30,"y":26.5},{"c":3,"x":31,"y":33},{"c":3,"x":31.5,"y":37.5},{"c":3,"x":32,"y":41.5},{"c":3,"x":32.5,"y":49},{"c":3,"x":33.1,"y":60},
{"c":4,"x":23,"y":-2.5},{"c":4,"x":24,"y":-1},{"c":4,"x":25,"y":1},{"c":4,"x":26,"y":2.5},{"c":4,"x":27,"y":3.5},{"c":4,"x":28,"y":5},{"c":4,"x":28.5,"y":6},{"c":4,"x":29,"y":7.5},{"c":4,"x":29.5,"y":10},{"c":4,"x":30,"y":13.5},{"c":4,"x":30.5,"y":17.5},{"c":4,"x":31,"y":22.5},{"c":4,"x":31.5,"y":28.5},{"c":4,"x":32,"y":35.5},{"c":4,"x":32.5,"y":43},{"c":4,"x":33,"y":51},{"c":4,"x":33.5,"y":60},
{"c":5,"x":23,"y":4},{"c":5,"x":24,"y":5},{"c":5,"x":25,"y":7},{"c":5,"x":26,"y":9},{"c":5,"x":27,"y":11},{"c":5,"x":28,"y":14.5},{"c":5,"x":29,"y":18.5},{"c":5,"x":30,"y":25},{"c":5,"x":30.5,"y":28},{"c":5,"x":31,"y":32},{"c":5,"x":31.5,"y":37},{"c":5,"x":32,"y":42.5},{"c":5,"x":32.5,"y":49},{"c":5,"x":33,"y":57},{"c":5,"x":33.1,"y":60},
{"c":6,"x":23,"y":3.5},{"c":6,"x":24,"y":6},{"c":6,"x":25,"y":9.2},{"c":6,"x":26,"y":12.5},{"c":6,"x":26.5,"y":14.5},{"c":6,"x":27,"y":15.5},{"c":6,"x":28,"y":16.8},{"c":6,"x":28.5,"y":18.5},{"c":6,"x":29,"y":21},{"c":6,"x":29.5,"y":25},{"c":6,"x":30,"y":29.5},{"c":6,"x":30.5,"y":35},{"c":6,"x":31,"y":40},{"c":6,"x":31.5,"y":44},{"c":6,"x":32,"y":48.5},{"c":6,"x":32.5,"y":55},{"c":6,"x":32.8,"y":60},
{"c":7,"x":23,"y":-3.5},{"c":7,"x":24,"y":-2.5},{"c":7,"x":24.7,"y":-1},{"c":7,"x":25,"y":1},{"c":7,"x":25.5,"y":1.5},{"c":7,"x":26,"y":1.5},{"c":7,"x":26.5,"y":3},{"c":7,"x":27,"y":5},{"c":7,"x":27.5,"y":7},{"c":7,"x":28,"y":7.5},{"c":7,"x":28.5,"y":7.5},{"c":7,"x":29,"y":8},{"c":7,"x":29.5,"y":9},{"c":7,"x":30,"y":12},{"c":7,"x":30.5,"y":16},{"c":7,"x":31,"y":18.5},{"c":7,"x":31.5,"y":21},{"c":7,"x":32,"y":25.5},{"c":7,"x":32.5,"y":32},{"c":7,"x":33,"y":43},{"c":7,"x":33.5,"y":52},{"c":7,"x":33.95,"y":60},
{"c":8,"x":23,"y":-6},{"c":8,"x":24,"y":-4.5},{"c":8,"x":25,"y":-3},{"c":8,"x":26,"y":-1.5},{"c":8,"x":26.7,"y":0},{"c":8,"x":27.3,"y":1},{"c":8,"x":27.8,"y":2.5},{"c":8,"x":28.2,"y":4},{"c":8,"x":28.7,"y":6.5},{"c":8,"x":29,"y":8},{"c":8,"x":29.5,"y":9},{"c":8,"x":30,"y":10.5},{"c":8,"x":30.5,"y":11.5},{"c":8,"x":30.9,"y":13},{"c":8,"x":31.4,"y":16},{"c":8,"x":31.6,"y":18},{"c":8,"x":31.8,"y":22},{"c":8,"x":32.2,"y":25},{"c":8,"x":32.6,"y":30},{"c":8,"x":33,"y":37},{"c":8,"x":33.5,"y":44},{"c":8,"x":33.9,"y":50},{"c":8,"x":34.55,"y":60}
]},
"mark":{"type":"line","strokeWidth":1.8,"interpolate":"monotone"},
"encoding":{"x":{"field":"x","type":"quantitative","scale":{"domain":[23,35],"nice":false,"zero":false},"axis":{"values":[23,25,27,29,31,33,35],"title":"Time (min)","labelFontSize":15,"titleFontSize":16,"labelPadding":3,"titlePadding":5}},
"y":{"field":"y","type":"quantitative","scale":{"domain":[-10,60],"nice":false,"zero":false},"axis":{"values":[0,10,20,30,40,50,60],"title":"Relative Response (pm)","labelFontSize":15,"titleFontSize":16,"labelPadding":3,"titlePadding":6}},
"color":{"field":"c","type":"nominal","scale":{"domain":[1,2,3,4,5,6,7,8],"range":["#111111","#ff2a6d","#237c74","#3d1a82","#ad7bf4","#62c8ee","#111111","#ff2a6d"]},"legend":{"title":null,"orient":"none","legendX":426,"legendY":42,"labelExpr":"'Cycle ' + datum.label","symbolType":"stroke","symbolSize":370,"symbolStrokeWidth":2.5,"labelFontSize":13.5,"labelOffset":9,"rowPadding":0}}}},
{"width":290,"height":192,"title":{"text":"F","offset":19},
"data":{"values":[{"x":1,"y":28.3},{"x":2,"y":31.34},{"x":3,"y":29.97},{"x":4,"y":31.42},{"x":5,"y":30.36},{"x":6,"y":29.64},{"x":7,"y":32.17},{"x":8,"y":32.55}]},
"mark":{"type":"point","shape":"diamond","filled":true,"size":110,"color":"#ff1a1a","opacity":1},
"encoding":{"x":{"field":"x","type":"quantitative","scale":{"domain":[0,8],"nice":false,"zero":false},"axis":{"values":[0,1,2,3,4,5,6,7,8],"title":"Cycle","labelFontSize":15,"titleFontSize":15.5,"labelPadding":3,"titlePadding":5}},
"y":{"field":"y","type":"quantitative","scale":{"domain":[20,35],"nice":false,"zero":false},"axis":{"values":[20,25,30,35],"title":"Breakthrough Time (min)","labelFontSize":15,"titleFontSize":16,"labelPadding":3,"titlePadding":7}}}}
]}
